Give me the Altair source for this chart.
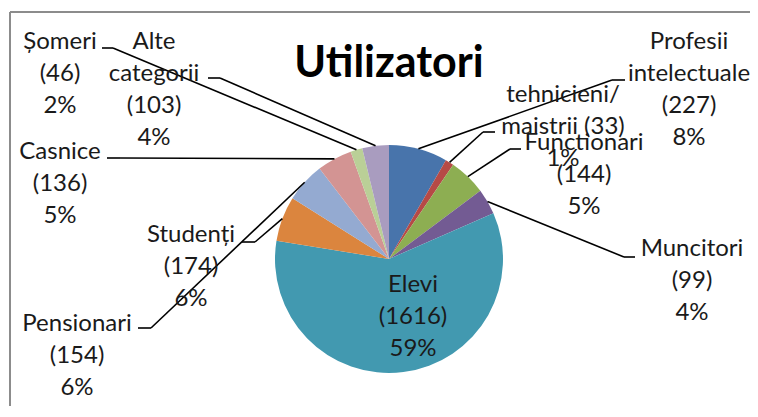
import altair as alt
import pandas as pd

# ---------------- data ----------------
categories = ["Profesii intelectuale", "tehnicieni/maistrii", "Functionari", "Muncitori",
              "Elevi", "Studenți", "Pensionari", "Casnice", "Șomeri", "Alte categorii"]
values = [227, 33, 144, 99, 1616, 174, 154, 136, 46, 103]
label_lines = [
    ["Profesii", "intelectuale", "({v})", "{p}%"],
    ["tehnicieni/", "maistrii ({v})", "{p}%"],
    ["Functionari", "({v})", "{p}%"],
    ["Muncitori", "({v})", "{p}%"],
    ["Elevi", "({v})", "{p}%"],
    ["Studenți", "({v})", "{p}%"],
    ["Pensionari", "({v})", "{p}%"],
    ["Casnice", "({v})", "{p}%"],
    ["Șomeri", "({v})", "{p}%"],
    ["Alte", "categorii", "({v})", "{p}%"],
]
chart_title = "Utilizatori"

# ---------------- style / layout ----------------
colors = ["#4874AB", "#B64A46", "#8DAE52", "#735B93", "#4299B0",
          "#DB853E", "#94AAD1", "#D39493", "#BACF97", "#A99CBF"]
FONT = "Lato"
TXT = "#1a1a1a"
OFF = 8                      # page margin
CX, CY, R = 389 - OFF, 259 - OFF, 114
LH = 32
# label block anchor (center x, first-line center y) in page px
label_xy = [(689, 42), (563, 95), (584, 143), (692, 249), (413, 285),
            (191, 235), (77, 324), (60, 152), (60, 42), (154, 42)]
# leader elbow (x, y) and end x of the short horizontal, page px
elbows = [(612, 80, 625), (483, 132, 495), (510, 149, 521), (624, 257, 635), None,
          (255, 242, 242), (151, 328, 138), (120, 158, 107), (113, 48, 102), (220, 78, 208)]

total = sum(values)

pie_df = pd.DataFrame({
    "cat": categories,
    "value": values,
    "idx": list(range(len(values))),
    "ex": [e[0] - OFF if e else None for e in elbows],
    "ey": [e[1] - OFF if e else None for e in elbows],
    "hx": [e[2] - OFF if e else None for e in elbows],
})

rows = []
for i, (lines, v) in enumerate(zip(label_lines, values)):
    p = round(v / total * 100)
    x0, y0 = label_xy[i]
    for k, t in enumerate(lines):
        rows.append({"cat": categories[i], "text": t.format(v=v, p=p),
                     "x": x0 - OFF, "y": y0 - OFF + k * LH})
lab_df = pd.DataFrame(rows)

pie = alt.Chart(pie_df).mark_arc(radius=R).encode(
    theta=alt.Theta("value:Q", stack=True),
    order=alt.Order("idx:Q"),
    color=alt.Color("cat:N", scale=alt.Scale(domain=categories, range=colors), legend=None),
    x=alt.value(CX), y=alt.value(CY),
)

leader_base = alt.Chart(pie_df).transform_joinaggregate(
    total="sum(value)"
).transform_window(
    cum="sum(value)", sort=[alt.SortField("idx")], frame=[None, 0]
).transform_calculate(
    mid="(datum.cum - datum.value/2) / datum.total * 2 * PI",
).transform_calculate(
    sx=f"{CX} + {R} * sin(datum.mid)",
    sy=f"{CY} - {R} * cos(datum.mid)",
).transform_filter("isValid(datum.ex)")

diag = leader_base.mark_rule(color="black", strokeWidth=1.6).encode(
    x=alt.X("sx:Q", scale=None), y=alt.Y("sy:Q", scale=None),
    x2="ex:Q", y2="ey:Q",
)
horiz = leader_base.mark_rule(color="black", strokeWidth=1.6).encode(
    x=alt.X("ex:Q", scale=None), y=alt.Y("ey:Q", scale=None),
    x2="hx:Q", y2="ey:Q",
)

labels = alt.Chart(lab_df).mark_text(
    font=FONT, fontSize=24, color=TXT, align="center", baseline="middle"
).encode(
    x=alt.X("x:Q", scale=None), y=alt.Y("y:Q", scale=None), text="text:N"
)

title_df = pd.DataFrame({"t": [chart_title]})
title = alt.Chart(title_df).mark_text(
    font=FONT, fontSize=43, fontWeight="bold", color="black", align="center", baseline="alphabetic"
).encode(x=alt.value(389 - OFF), y=alt.value(77 - OFF), text="t:N")

frame_top = alt.Chart(title_df).mark_rule(stroke="#8c8c8c", strokeWidth=2).encode(
    x=alt.value(10 - OFF), x2=alt.value(760), y=alt.value(12 - OFF)
)
frame_left = alt.Chart(title_df).mark_rule(stroke="#8c8c8c", strokeWidth=2).encode(
    x=alt.value(10 - OFF), y=alt.value(12 - OFF), y2=alt.value(430)
)

chart = alt.layer(frame_top, frame_left, pie, diag, horiz, labels, title).properties(
    width=742, height=398, padding=0, autosize="none"
).configure_view(stroke=None)

chart.save("out.html", embed_options={"renderer": "svg", "actions": False})
